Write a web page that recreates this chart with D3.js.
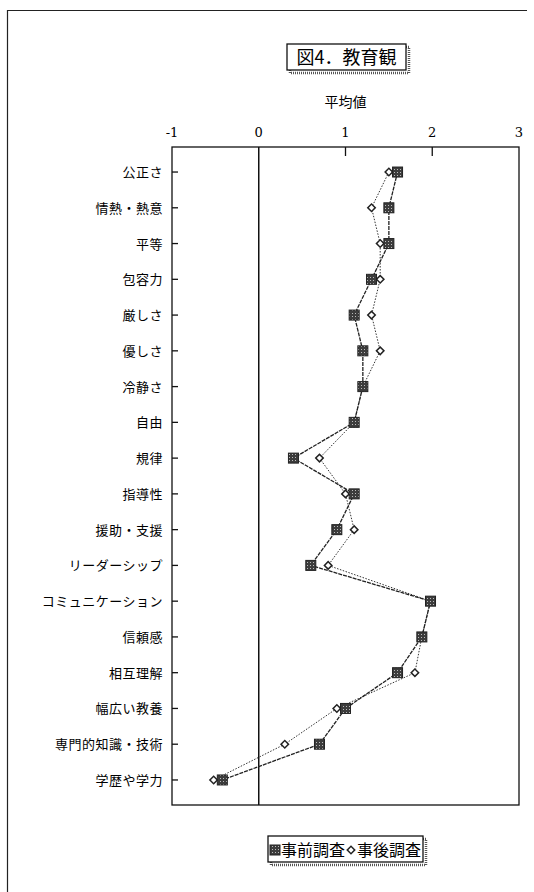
<html>
  <head>
    <meta charset="utf-8">
    <script src="https://cdn.jsdelivr.net/npm/d3@7"></script>
    <style>
      body { margin: 0; background: #fff; }
      text { font-family: "Noto Sans CJK JP", "Noto Sans", sans-serif; fill: #000; }
    </style>
  </head>
  <body>
    <script>
      const categories = ["公正さ", "情熱・熱意", "平等", "包容力", "厳しさ", "優しさ", "冷静さ", "自由", "規律",
        "指導性", "援助・支援", "リーダーシップ", "コミュニケーション", "信頼感", "相互理解", "幅広い教養",
        "専門的知識・技術", "学歴や学力"];
      const preValues = [1.6, 1.5, 1.5, 1.3, 1.1, 1.2, 1.2, 1.1, 0.4, 1.1, 0.9, 0.6, 1.98, 1.88, 1.6, 1.0, 0.7, -0.42];
      const postValues = [1.5, 1.3, 1.4, 1.4, 1.3, 1.4, 1.2, 1.1, 0.7, 1.0, 1.1, 0.8, 1.98, 1.88, 1.8, 0.9, 0.3, -0.52];
      const xTicks = [-1, 0, 1, 2, 3];
      const seriesNames = ["事前調査", "事後調査"];

      const width = 534, height = 892;
      const plot = { left: 172, right: 519, top: 147, bottom: 805 };

      const svg = d3.select("body").append("svg")
          .attr("width", width)
          .attr("height", height);

      // pattern for the filled squares
      const pat = svg.append("defs").append("pattern")
          .attr("id", "dots")
          .attr("width", 3).attr("height", 3)
          .attr("patternUnits", "userSpaceOnUse");
      pat.append("rect").attr("width", 3).attr("height", 3).attr("fill", "#3c3c3c");
      pat.append("rect").attr("x", 1).attr("y", 1).attr("width", 1).attr("height", 1).attr("fill", "#bbb");

      // outer frame (top + left edges)
      svg.append("path")
          .attr("d", "M7.5,892 V10.5 H527")
          .attr("fill", "none")
          .attr("stroke", "#222")
          .attr("stroke-width", 1.2);

      // title box
      const title = svg.append("g").attr("transform", "translate(287,44)");
      title.append("rect").attr("x", 3).attr("y", 3).attr("width", 119).attr("height", 26)
          .attr("fill", "none").attr("stroke", "#555").attr("stroke-width", 2.5).attr("stroke-dasharray", "1,1");
      title.append("rect").attr("width", 119).attr("height", 26)
          .attr("fill", "#fff").attr("stroke", "#111").attr("stroke-width", 1.3);
      title.append("text").attr("x", 59.5).attr("y", 20)
          .attr("text-anchor", "middle")
          .attr("font-size", 18)
          .text("図4．教育観");

      const x = d3.scaleLinear().domain([-1, 3]).range([plot.left, plot.right]);
      const y = d3.scalePoint().domain(categories).range([plot.top, plot.bottom]).padding(0.7);

      // axis title
      svg.append("text")
          .attr("x", x(1)).attr("y", 107)
          .attr("text-anchor", "middle")
          .attr("font-size", 14)
          .text("平均値");

      // top tick labels
      svg.append("g").selectAll("text").data(xTicks).join("text")
          .attr("x", d => x(d)).attr("y", 137)
          .attr("text-anchor", "middle")
          .attr("font-size", 13)
          .style("font-family", "'DejaVu Serif', serif")
          .text(d => d);

      // plot frame
      svg.append("rect")
          .attr("x", plot.left).attr("y", plot.top)
          .attr("width", plot.right - plot.left).attr("height", plot.bottom - plot.top)
          .attr("fill", "none").attr("stroke", "#111").attr("stroke-width", 1.3);

      // top ticks
      svg.append("g").selectAll("line").data([1, 2]).join("line")
          .attr("x1", d => x(d)).attr("x2", d => x(d))
          .attr("y1", plot.top).attr("y2", plot.top + 9)
          .attr("stroke", "#111").attr("stroke-width", 1.3);

      // zero line
      svg.append("line")
          .attr("x1", x(0)).attr("x2", x(0))
          .attr("y1", plot.top).attr("y2", plot.bottom)
          .attr("stroke", "#111").attr("stroke-width", 1.5);

      // category ticks and labels
      svg.append("g").selectAll("line").data(categories).join("line")
          .attr("x1", plot.left).attr("x2", plot.left + 6)
          .attr("y1", d => y(d)).attr("y2", d => y(d))
          .attr("stroke", "#111").attr("stroke-width", 1.3);
      svg.append("g").selectAll("text").data(categories).join("text")
          .attr("x", 163).attr("y", d => y(d) + 5)
          .attr("text-anchor", "end")
          .attr("font-size", 13)
          .style("letter-spacing", "0.5px")
          .text(d => d);

      const line = d3.line()
          .x(d => x(d[1]))
          .y(d => y(d[0]));

      const preData = categories.map((c, i) => [c, preValues[i]]);
      const postData = categories.map((c, i) => [c, postValues[i]]);

      svg.append("path").datum(postData)
          .attr("d", line)
          .attr("fill", "none").attr("stroke", "#333").attr("stroke-width", 1)
          .attr("stroke-dasharray", "1.5,1.5");
      svg.append("path").datum(preData)
          .attr("d", line)
          .attr("fill", "none").attr("stroke", "#222").attr("stroke-width", 1.3)
          .attr("stroke-dasharray", "4,1");

      const diamond = d3.symbol().type(d3.symbolSquare).size(28);

      function drawSquare(g, cx, cy) {
        g.append("rect")
            .attr("x", cx - 5).attr("y", cy - 5).attr("width", 10).attr("height", 10)
            .attr("fill", "url(#dots)").attr("stroke", "#222").attr("stroke-width", 1);
      }
      function drawDiamond(g, cx, cy) {
        g.append("path")
            .attr("d", diamond())
            .attr("transform", `translate(${cx},${cy}) rotate(45)`)
            .attr("fill", "#fff").attr("stroke", "#222").attr("stroke-width", 1.5);
      }

      const markers = svg.append("g");
      postData.forEach(d => drawDiamond(markers, x(d[1]), y(d[0])));
      preData.forEach(d => drawSquare(markers, x(d[1]), y(d[0])));

      // legend
      const legend = svg.append("g").attr("transform", "translate(268,836)");
      legend.append("rect").attr("x", 3).attr("y", 3).attr("width", 155).attr("height", 26)
          .attr("fill", "none").attr("stroke", "#555").attr("stroke-width", 2.5).attr("stroke-dasharray", "1,1");
      legend.append("rect").attr("width", 155).attr("height", 26)
          .attr("fill", "#fff").attr("stroke", "#111").attr("stroke-width", 1.3);
      drawSquare(legend, 7, 14);
      legend.append("text").attr("x", 13).attr("y", 20).attr("font-size", 16).text(seriesNames[0]);
      drawDiamond(legend, 83, 14);
      legend.append("text").attr("x", 89).attr("y", 20).attr("font-size", 16).text(seriesNames[1]);
    </script>
  </body>
</html>
